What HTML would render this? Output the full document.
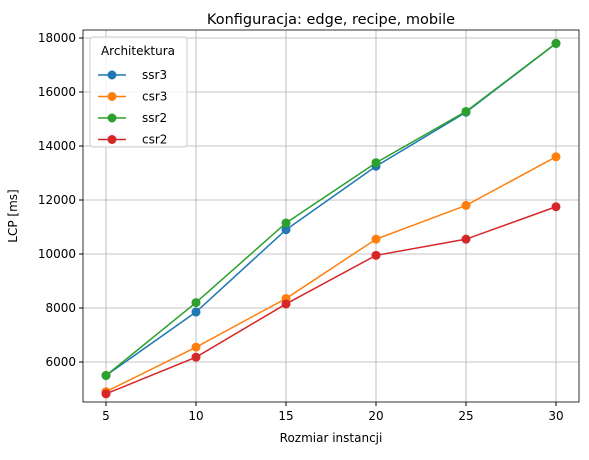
<!DOCTYPE html>
<html><head><meta charset="utf-8"><style>
body{margin:0;background:#fff;font-family:"Liberation Sans","DejaVu Sans",sans-serif}
svg text{font-family:"DejaVu Sans","Liberation Sans",sans-serif}
</style></head><body>
<svg id="chart" width="589" height="455"></svg>
<script>
const categories=[5,10,15,20,25,30];
const ssr3=[5500,7850,10900,13250,15250,17800];
const csr3=[4900,6550,8350,10550,11800,13600];
const ssr2=[5500,8200,11150,13380,15280,17800];
const csr2=[4820,6180,8150,9950,10550,11750];
const xTicks=[5,10,15,20,25,30];
const yTicks=[6000,8000,10000,12000,14000,16000,18000];
const seriesNames=["ssr3","csr3","ssr2","csr2"];
const colors=["#1f77b4","#ff7f0e","#2ca02c","#d62728"];
const L=83,R=579,T=30,B=402;
const x=v=>106+(v-5)*18;
const y=v=>362-(v-6000)*0.027;
const svg=document.getElementById('chart');
const NS="http://www.w3.org/2000/svg";
function mk(t,a,p){const e=document.createElementNS(NS,t);for(const k in a)e.setAttribute(k,a[k]);(p||svg).appendChild(e);return e;}
xTicks.forEach(t=>{const g=mk('line',{x1:x(t),x2:x(t),y1:T,y2:B,stroke:'#b0b0b0','stroke-width':0.8});


const tk=mk('line',{x1:x(t),x2:x(t),y1:B,y2:B+4,stroke:'#000'});


const tx=mk('text',{x:x(t),y:B+18,'font-size':12,'text-anchor':'middle'});tx.textContent=t;

});
yTicks.forEach(t=>{const g=mk('line',{x1:L,x2:R,y1:y(t),y2:y(t),stroke:'#b0b0b0','stroke-width':0.8});


const tk=mk('line',{x1:L-4,x2:L,y1:y(t),y2:y(t),stroke:'#000'});


const tx=mk('text',{x:L-7,y:y(t)+4,'font-size':12,'text-anchor':'end'});tx.textContent=t;

});
const fr=mk('rect',{x:L,y:T,width:R-L,height:B-T,fill:'none',stroke:'#000','stroke-width':0.8});


[ssr3,csr3,ssr2,csr2].forEach((d,i)=>{
const pl=mk('polyline',{points:d.map((v,j)=>x(categories[j])+','+y(v)).join(' '),fill:'none',stroke:colors[i],'stroke-width':1.5});


d.forEach((v,j)=>{const c=mk('circle',{cx:x(categories[j]),cy:y(v),r:4.5,fill:colors[i]});

});
});
const ti=mk('text',{x:331,y:24,'font-size':14.5,'text-anchor':'middle'});ti.textContent='Konfiguracja: edge, recipe, mobile';


const xl=mk('text',{x:331,y:442,'font-size':12,'text-anchor':'middle'});xl.textContent='Rozmiar instancji';


const yl=mk('text',{x:17,y:216,'font-size':12,'text-anchor':'middle',transform:'rotate(-90 17 216)'});yl.textContent='LCP [ms]';


const lg=mk('g',{});


mk('rect',{x:90,y:37,width:97,height:110,rx:3,fill:'#fff','fill-opacity':0.85,stroke:'#ccc'},lg);
const lt=mk('text',{x:138,y:55,'font-size':12,'text-anchor':'middle'},lg);lt.textContent='Architektura';
seriesNames.forEach((n,i)=>{const yy=75+i*21.5;
const e=mk('g',{},lg);


mk('line',{x1:98,x2:126,y1:yy,y2:yy,stroke:colors[i],'stroke-width':1.5},e);
mk('circle',{cx:112,cy:yy,r:4.5,fill:colors[i]},e);
const t=mk('text',{x:142,y:yy+4,'font-size':12},e);t.textContent=n;});
</script>
</body></html>
